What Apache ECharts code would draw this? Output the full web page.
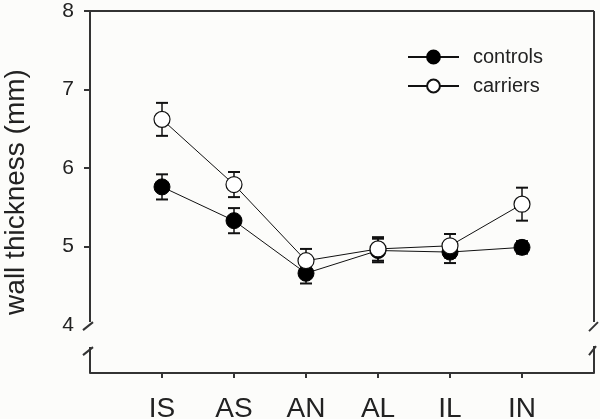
<!DOCTYPE html>
<html>
<head>
<meta charset="utf-8">
<script src="https://cdn.jsdelivr.net/npm/echarts@6/dist/echarts.min.js"></script>
<style>
html,body{margin:0;padding:0;background:#fcfcfa;}
#main{width:600px;height:419px;}
</style>
</head>
<body>
<div id="main"></div>
<script>
const categories = ['IS', 'AS', 'AN', 'AL', 'IL', 'IN'];
const controlsMean = [5.76, 5.33, 4.66, 4.95, 4.93, 4.99];
const controlsErr = [0.16, 0.16, 0.13, 0.15, 0.14, 0.08];
const carriersMean = [6.62, 5.79, 4.82, 4.97, 5.01, 5.54];
const carriersErr = [0.21, 0.16, 0.15, 0.15, 0.15, 0.21];
const yTickLabels = [4, 5, 6, 7, 8];
const yTickMarks = [5, 6, 7, 8];
const xPositions = categories.map((c, i) => i + 1);

const FONT = 'Liberation Sans, Arial, sans-serif';
const AXIS = '#333';
const TEXT = '#222';

function pts(means) { return means.map((m, i) => [xPositions[i], m]); }
function errData(means, errs) { return means.map((m, i) => [xPositions[i], m - errs[i], m + errs[i]]); }

function errRender(params, api) {
  const x = api.value(0);
  const lo = api.coord([x, api.value(1)]);
  const hi = api.coord([x, api.value(2)]);
  const w = 6;
  const st = { stroke: '#111', lineWidth: 1.5 };
  const cap = { stroke: '#111', lineWidth: 2 };
  return {
    type: 'group',
    children: [
      { type: 'line', shape: { x1: lo[0], y1: lo[1], x2: hi[0], y2: hi[1] }, style: st },
      { type: 'line', shape: { x1: lo[0] - w, y1: lo[1], x2: lo[0] + w, y2: lo[1] }, style: cap },
      { type: 'line', shape: { x1: hi[0] - w, y1: hi[1], x2: hi[0] + w, y2: hi[1] }, style: cap }
    ]
  };
}

const chart = echarts.init(document.getElementById('main'), null, { renderer: 'canvas' });
const option = {
  backgroundColor: '#fcfcfa',
  animation: false,
  grid: { left: 90, right: 6, top: 11, bottom: 46, containLabel: false, outerBoundsMode: 'none' },
  legend: {
    orient: 'vertical',
    left: 407,
    top: 47,
    padding: 0,
    itemWidth: 51,
    itemHeight: 16,
    itemGap: 9,
    textStyle: { fontFamily: FONT, fontSize: 20, color: TEXT, padding: [0, 0, 0, 9] },
    data: ['controls', 'carriers']
  },
  xAxis: {
    type: 'value',
    min: 0,
    max: 7,
    splitLine: { show: false },
    axisLine: { show: true, lineStyle: { color: AXIS, width: 2 } },
    axisTick: { show: true, length: 5, customValues: xPositions, lineStyle: { color: AXIS, width: 2 } },
    axisLabel: {
      customValues: xPositions,
      formatter: v => categories[Math.round(v) - 1] || '',
      fontFamily: FONT, fontSize: 28, color: TEXT, margin: 22
    }
  },
  yAxis: {
    type: 'value',
    min: 3.39,
    max: 8,
    name: 'wall thickness (mm)',
    nameLocation: 'middle',
    nameGap: 60,
    nameTextStyle: { fontFamily: FONT, fontSize: 28, color: TEXT },
    splitLine: { show: false },
    axisLine: { show: false },
    axisTick: { show: true, length: 6, customValues: yTickMarks, lineStyle: { color: AXIS, width: 2 } },
    axisLabel: { customValues: yTickLabels, fontFamily: FONT, fontSize: 21, color: TEXT, margin: 16 }
  },
  series: [
    {
      type: 'custom', name: 'controlsErr', renderItem: errRender, data: errData(controlsMean, controlsErr),
      encode: { x: 0, y: [1, 2] }, z: 2, silent: true
    },
    {
      type: 'custom', name: 'carriersErr', renderItem: errRender, data: errData(carriersMean, carriersErr),
      encode: { x: 0, y: [1, 2] }, z: 2, silent: true
    },
    {
      type: 'line', name: 'controls', data: pts(controlsMean), z: 3,
      symbol: 'circle', symbolSize: 16,
      lineStyle: { color: '#111', width: 1 },
      itemStyle: { color: '#000', borderColor: '#000', borderWidth: 1 }
    },
    {
      type: 'line', name: 'carriers', data: pts(carriersMean), z: 4,
      symbol: 'circle', symbolSize: 16,
      lineStyle: { color: '#111', width: 1 },
      itemStyle: { color: '#fff', borderColor: '#111', borderWidth: 1.2 }
    }
  ]
};
chart.setOption(option);

// Frame and axis-break decorations, placed through the grid's own scales
const yMin = option.yAxis.min, yMax = option.yAxis.max, xMin = option.xAxis.min, xMax = option.xAxis.max;
const pTL = chart.convertToPixel({ gridIndex: 0 }, [xMin, yMax]);
const pBR = chart.convertToPixel({ gridIndex: 0 }, [xMax, yMin]);
const p4 = chart.convertToPixel({ gridIndex: 0 }, [xMin, 4]);
const xL = pTL[0], xR = pBR[0], yT = pTL[1], yB = pBR[1], yb = p4[1];
const ls = { stroke: AXIS, lineWidth: 2 };
function seg(x1, y1, x2, y2) { return { type: 'line', shape: { x1, y1, x2, y2 }, style: ls, silent: true }; }
chart.setOption({
  graphic: [
    seg(xL, yT, xR, yT),
    seg(xL, yT, xL, yb - 3),
    seg(xL - 7, yb + 5, xL + 3, yb - 3),
    seg(xL - 7, yb + 30, xL + 3, yb + 22),
    seg(xL, yb + 22, xL, yB),
    seg(xR, yT, xR, yb - 3),
    seg(xR - 5, yb + 6, xR + 4, yb - 3),
    seg(xR - 5, yb + 30, xR + 2, yb + 21),
    seg(xR, yb + 21, xR, yB)
  ]
});
</script>
</body>
</html>
